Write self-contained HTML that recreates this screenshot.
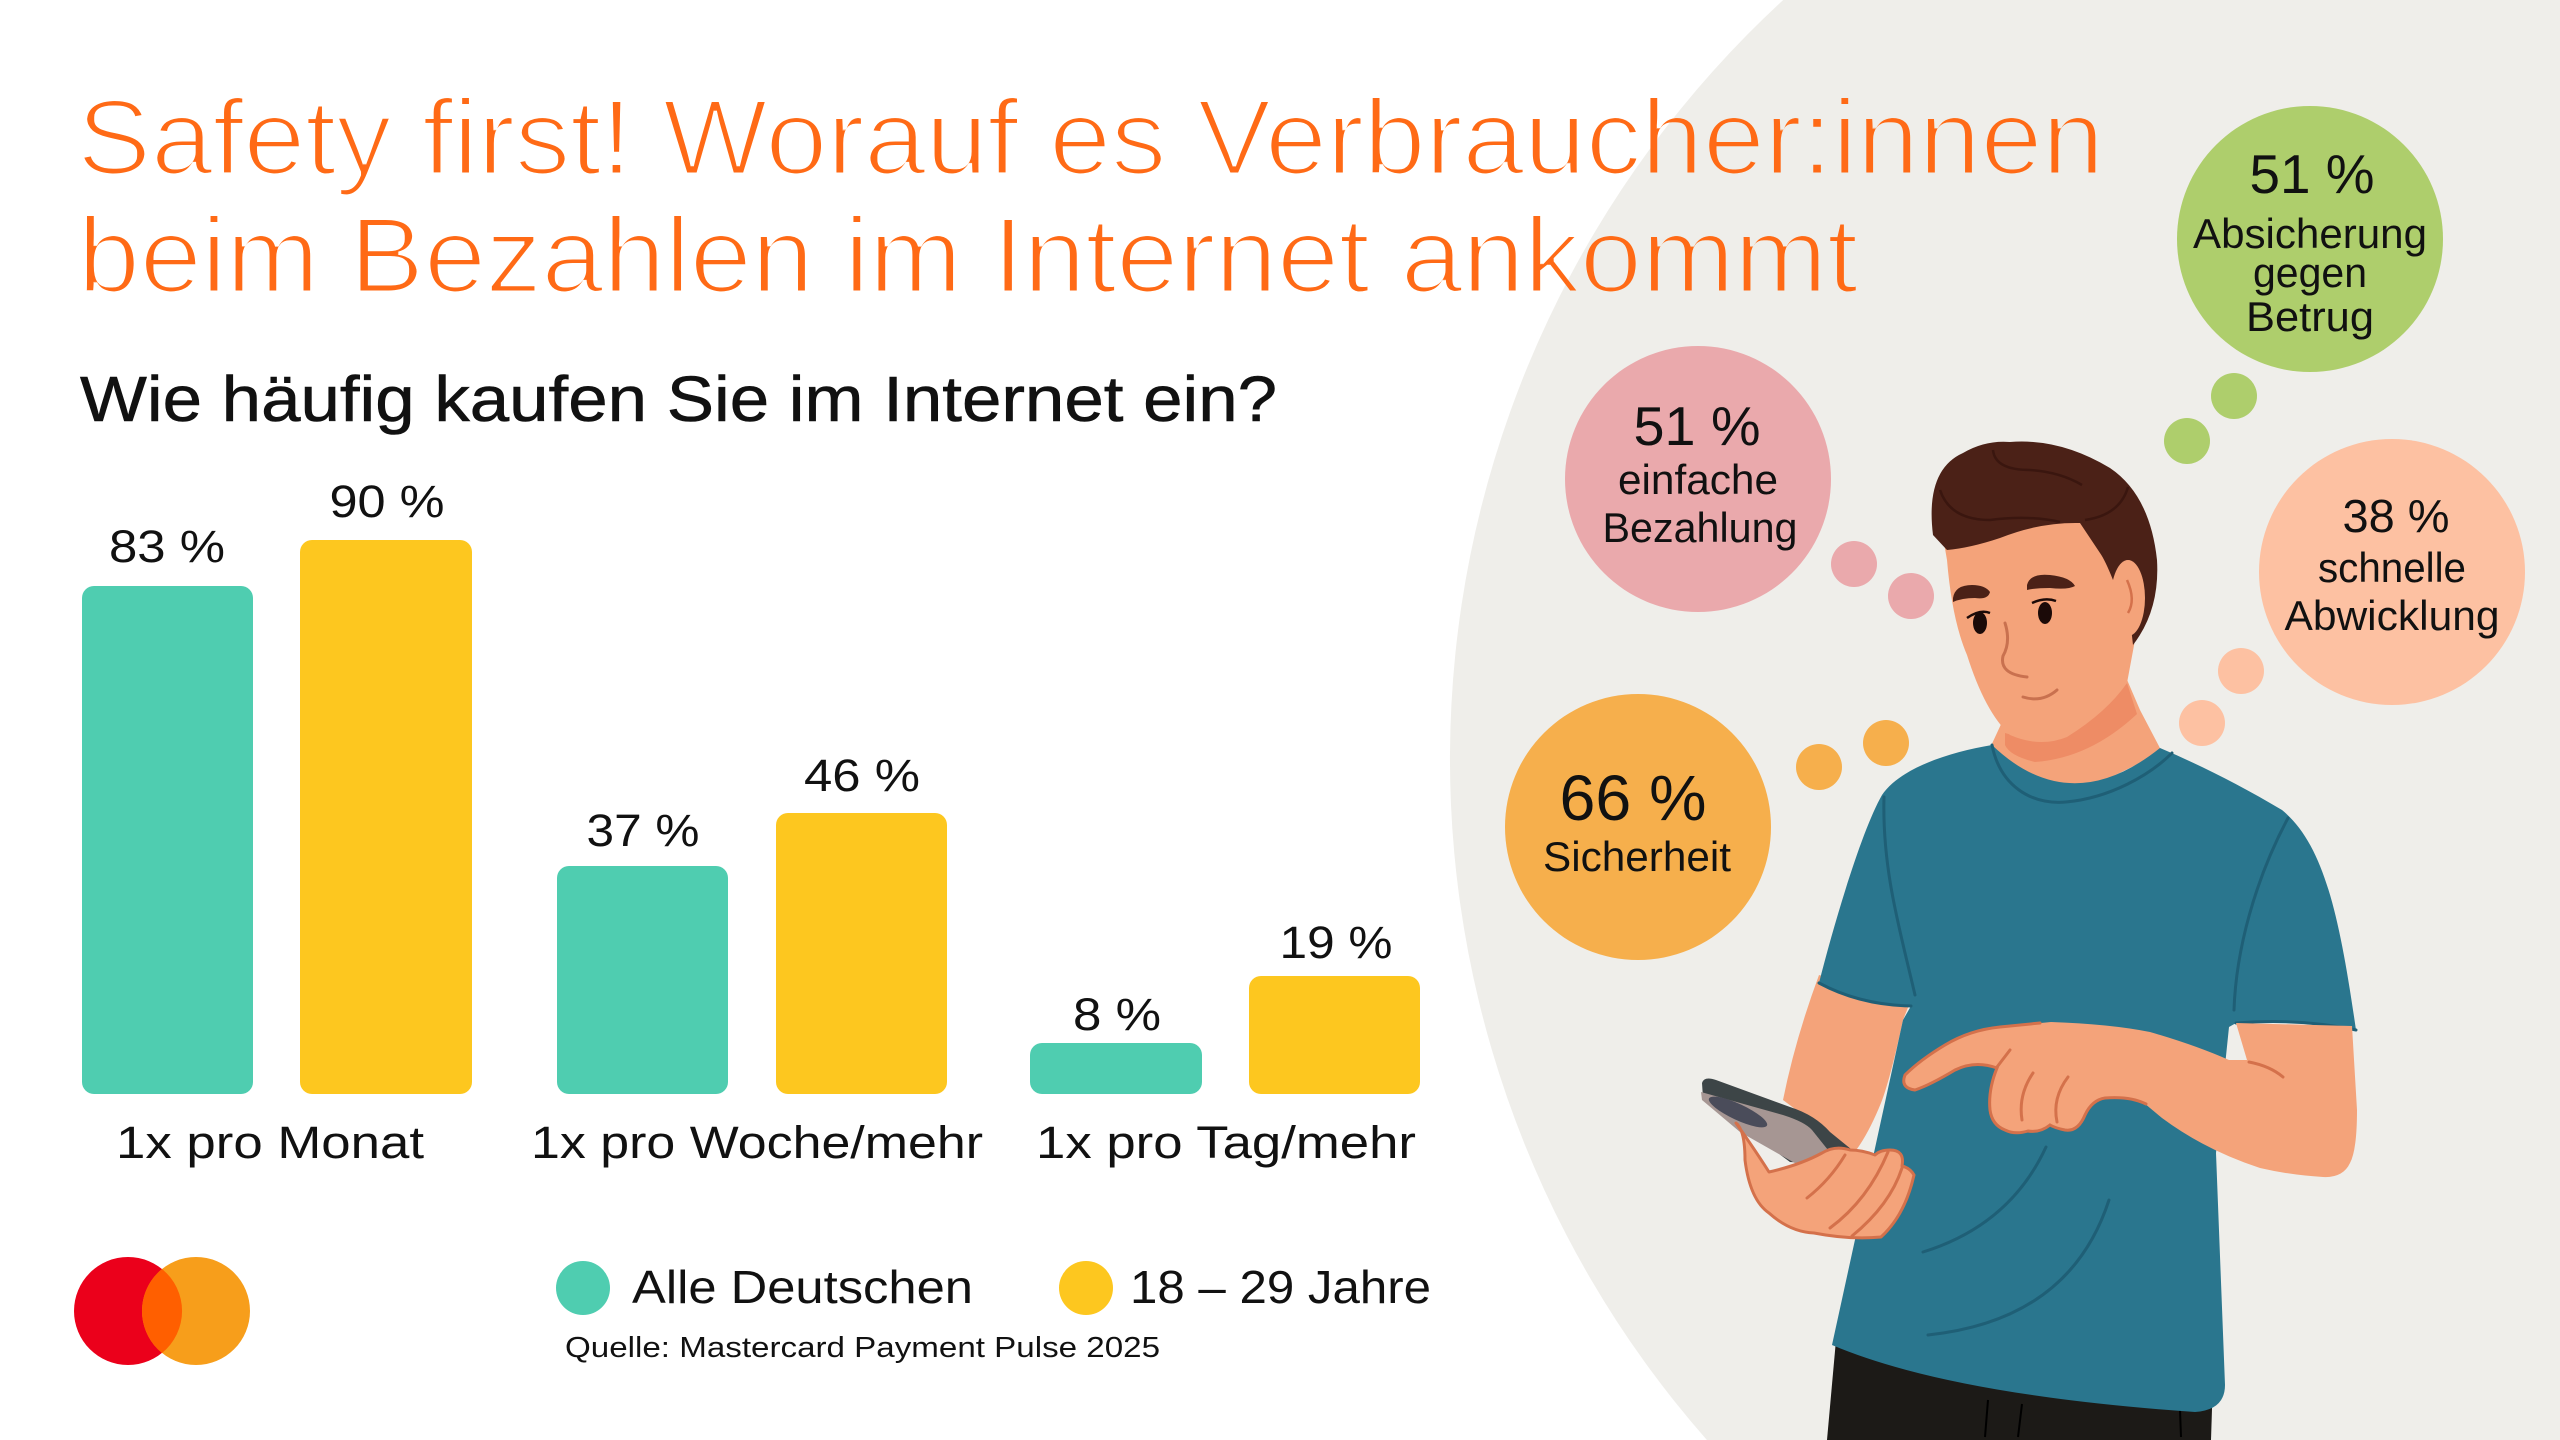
<!DOCTYPE html>
<html><head><meta charset="utf-8">
<style>html,body{margin:0;padding:0;background:#fff;width:2560px;height:1440px;overflow:hidden}svg{display:block;overflow:hidden}</style>
</head><body>
<svg width="2560" height="1440" viewBox="0 0 2560 1440" xmlns="http://www.w3.org/2000/svg" font-family="'Liberation Sans', sans-serif">
<defs>
  <filter id="thin" x="-2%" y="-20%" width="104%" height="140%"><feMorphology operator="erode" radius="1.5"/></filter>
</defs>
<rect width="2560" height="1440" fill="#fff"/>
<path d="M1783.2,0 L2560,0 L2560,1440 L1706.9,1440 A1031,1031 0 0 1 1783.2,0 Z" fill="#EFEEEA"/>

<!-- Title -->
<g fill="#FF6A13" font-size="107" filter="url(#thin)">
  <text x="77" y="174" textLength="2027" lengthAdjust="spacingAndGlyphs">Safety first! Worauf es Verbraucher:innen</text>
  <text x="78" y="292" textLength="1780" lengthAdjust="spacingAndGlyphs">beim Bezahlen im Internet ankommt</text>
</g>

<!-- Subtitle -->
<text x="80" y="421" font-size="64" fill="#111" stroke="#111" stroke-width="0.6" textLength="1197" lengthAdjust="spacingAndGlyphs">Wie häufig kaufen Sie im Internet ein?</text>

<!-- Bars -->
<g>
  <rect x="82" y="586" width="171" height="508" rx="12" fill="#4FCDB0"/>
  <rect x="300" y="540" width="172" height="554" rx="12" fill="#FDC71F"/>
  <rect x="557" y="866" width="171" height="228" rx="12" fill="#4FCDB0"/>
  <rect x="776" y="813" width="171" height="281" rx="12" fill="#FDC71F"/>
  <rect x="1030" y="1043" width="172" height="51" rx="12" fill="#4FCDB0"/>
  <rect x="1249" y="976" width="171" height="118" rx="12" fill="#FDC71F"/>
</g>
<g font-size="45" fill="#111" text-anchor="middle">
  <text x="167" y="562" textLength="116" lengthAdjust="spacingAndGlyphs">83 %</text>
  <text x="387" y="517" textLength="115" lengthAdjust="spacingAndGlyphs">90 %</text>
  <text x="643" y="846" textLength="113" lengthAdjust="spacingAndGlyphs">37 %</text>
  <text x="862" y="791" textLength="116" lengthAdjust="spacingAndGlyphs">46 %</text>
  <text x="1117" y="1030" textLength="88" lengthAdjust="spacingAndGlyphs">8 %</text>
  <text x="1336" y="958" textLength="113" lengthAdjust="spacingAndGlyphs">19 %</text>
  <text x="270" y="1158" textLength="308" lengthAdjust="spacingAndGlyphs">1x pro Monat</text>
  <text x="757" y="1158" textLength="452" lengthAdjust="spacingAndGlyphs">1x pro Woche/mehr</text>
  <text x="1226" y="1158" textLength="380" lengthAdjust="spacingAndGlyphs">1x pro Tag/mehr</text>
</g>

<!-- Legend -->
<circle cx="583" cy="1288" r="27" fill="#4FCDB0"/>
<circle cx="1086" cy="1288" r="27" fill="#FDC71F"/>
<g font-size="46" fill="#111">
  <text x="632" y="1303" textLength="341" lengthAdjust="spacingAndGlyphs">Alle Deutschen</text>
  <text x="1130" y="1303" textLength="301" lengthAdjust="spacingAndGlyphs">18 – 29 Jahre</text>
</g>
<text x="565" y="1357" font-size="29" fill="#111" textLength="595" lengthAdjust="spacingAndGlyphs">Quelle: Mastercard Payment Pulse 2025</text>

<!-- Mastercard logo -->
<circle cx="128" cy="1311" r="54" fill="#EB001B"/>
<circle cx="196" cy="1311" r="54" fill="#F79E1B"/>
<path d="M162,1269 A54,54 0 0 1 162,1353 A54,54 0 0 1 162,1269 Z" fill="#FF5F00"/>

<!-- Bubbles -->
<circle cx="2310" cy="239" r="133" fill="#AECE6C"/>
<circle cx="2234" cy="396" r="23" fill="#AECE6C"/>
<circle cx="2187" cy="441" r="23" fill="#AECE6C"/>
<circle cx="1698" cy="479" r="133" fill="#EAA9AC"/>
<circle cx="1854" cy="564" r="23" fill="#EAA9AC"/>
<circle cx="1911" cy="596" r="23" fill="#EAA9AC"/>
<circle cx="2392" cy="572" r="133" fill="#FDC1A2"/>
<circle cx="2241" cy="671" r="23" fill="#FDC1A2"/>
<circle cx="2202" cy="723" r="23" fill="#FDC1A2"/>
<circle cx="1638" cy="827" r="133" fill="#F6AF4C"/>
<circle cx="1819" cy="767" r="23" fill="#F6AF4C"/>
<circle cx="1886" cy="743" r="23" fill="#F6AF4C"/>

<g fill="#111" text-anchor="middle">
  <text x="2312" y="193" font-size="55" textLength="125" lengthAdjust="spacingAndGlyphs">51 %</text>
  <text x="2310" y="248" font-size="42" textLength="234" lengthAdjust="spacingAndGlyphs">Absicherung</text>
  <text x="2310" y="287" font-size="42" textLength="114" lengthAdjust="spacingAndGlyphs">gegen</text>
  <text x="2310" y="331" font-size="42" textLength="128" lengthAdjust="spacingAndGlyphs">Betrug</text>

  <text x="1697" y="445" font-size="55" textLength="127" lengthAdjust="spacingAndGlyphs">51 %</text>
  <text x="1698" y="494" font-size="42" textLength="160" lengthAdjust="spacingAndGlyphs">einfache</text>
  <text x="1700" y="542" font-size="42" textLength="195" lengthAdjust="spacingAndGlyphs">Bezahlung</text>

  <text x="2396" y="532" font-size="46" textLength="107" lengthAdjust="spacingAndGlyphs">38 %</text>
  <text x="2392" y="582" font-size="42" textLength="148" lengthAdjust="spacingAndGlyphs">schnelle</text>
  <text x="2392" y="630" font-size="42" textLength="215" lengthAdjust="spacingAndGlyphs">Abwicklung</text>

  <text x="1633" y="820" font-size="64" textLength="147" lengthAdjust="spacingAndGlyphs">66 %</text>
  <text x="1637" y="871" font-size="42" textLength="188" lengthAdjust="spacingAndGlyphs">Sicherheit</text>
</g>

<!-- Man illustration -->
<path d="M1836,1340 L2213,1378 L2211,1440 L1827,1440 Z" fill="#1C1A17"/>
<path d="M1988,1400 L1985,1437 M2022,1404 L2018,1437 M2180,1410 L2181,1437" stroke="#000" stroke-width="2" fill="none"/>
<path d="M1819,975 L1911,1000 L1903,1020 Q1890,1080 1881,1103 Q1868,1135 1854,1153 L1783,1100 Q1795,1040 1819,975 Z" fill="#F4A37A"/>
<path d="M2003,720 L2125,675 L2140,710 L2162,752 L2065,800 L1990,748 Z" fill="#F4A37A"/>
<path d="M2005,733 Q2060,752 2127,683 L2137,714 Q2090,758 2035,762 Q2010,756 2005,745 Z" fill="#EE8C65"/>
<path d="M1992,745 C1950,752 1900,768 1882,795 C1862,830 1835,920 1819,983 Q1860,1005 1911,1006 L1903,1020 L1832,1345 Q1950,1395 2195,1412 Q2225,1410 2225,1385 L2216,1153 L2229,1027 L2236,1023 Q2300,1018 2356,1030 C2340,920 2325,845 2282,810 C2240,785 2200,765 2160,748 Q2070,820 1992,745 Z" fill="#2A768E"/>
<g stroke="#1F5F76" stroke-width="3" fill="none" stroke-linecap="round">
  <path d="M1992,745 C2000,785 2030,805 2066,802 C2110,798 2150,775 2172,753"/>
  <path d="M1884,797 C1882,870 1900,930 1915,995"/>
  <path d="M2288,818 C2255,880 2236,950 2234,1010"/>
  <path d="M1819,983 Q1860,1005 1911,1006"/>
  <path d="M2236,1023 Q2300,1018 2356,1030"/>
  <path d="M2046,1147 Q2010,1225 1923,1252"/>
  <path d="M2109,1200 Q2070,1320 1928,1335"/>
</g>
<path d="M1940,520 L1947,560 Q1952,620 1967,655 Q1985,712 2010,735 Q2040,748 2067,737 Q2107,712 2127,683 L2135,640 L2135,520 Z" fill="#F4A37A"/>
<path d="M1933,535 Q1925,470 1963,453 Q1985,440 2010,442 Q2060,438 2110,468 Q2150,495 2157,560 Q2160,610 2133,645 L2128,600 Q2118,585 2113,580 Q2105,560 2100,553 L2080,523 Q2040,522 2000,538 Q1970,548 1947,550 Z" fill="#4B2117"/>
<g stroke="#3A160F" stroke-width="2.5" fill="none">
  <path d="M1993,450 Q1995,470 2030,470 Q2060,472 2082,485"/>
  <path d="M1940,490 Q1950,520 1990,520 Q2030,515 2060,522"/>
  <path d="M2128,487 Q2120,515 2085,520"/>
</g>
<ellipse cx="2128" cy="598" rx="17" ry="38" fill="#F4A37A"/>
<path d="M2127,580 Q2136,600 2128,613" stroke="#D4714B" stroke-width="2.5" fill="none"/>
<path d="M1953,598 Q1955,585 1972,585 Q1985,585 1990,592 Q1988,600 1975,598 Q1962,598 1953,602 Z" fill="#4B2117"/>
<path d="M2027,585 Q2030,573 2050,575 Q2070,577 2075,586 Q2068,590 2050,588 Q2035,588 2027,590 Z" fill="#4B2117"/>
<ellipse cx="1980" cy="623" rx="7" ry="11" fill="#1B0A08"/>
<ellipse cx="2045" cy="613" rx="7" ry="11" fill="#1B0A08"/>
<path d="M1967,618 Q1980,609 1990,613 M2032,603 Q2045,597 2056,601" stroke="#1B0A08" stroke-width="2.5" fill="none"/>
<path d="M2005,623 Q2011,642 2003,656 Q1999,674 2027,677" stroke="#C9714F" stroke-width="3" fill="none" stroke-linecap="round"/>
<path d="M2023,697 Q2042,703 2057,690" stroke="#C9714F" stroke-width="3" fill="none" stroke-linecap="round"/>

<path d="M2236,1023 L2352,1026 L2357,1110 Q2357,1150 2350,1163 Q2343,1178 2323,1177 Q2290,1175 2260,1168 Q2205,1150 2162,1118 Q2150,1108 2144,1103 Q2130,1096 2105,1098 Q2092,1100 2085,1115 Q2078,1132 2065,1130 Q2055,1128 2050,1125 Q2040,1133 2028,1131 Q2015,1135 2005,1130 Q1992,1125 1990,1110 Q1988,1090 1997,1068 Q1975,1060 1955,1070 Q1930,1085 1915,1090 Q1900,1088 1905,1075 Q1920,1060 1945,1045 Q1970,1030 2000,1027 L2051,1022 Q2110,1024 2150,1032 Q2195,1045 2229,1060 L2247,1060 Z" fill="#F4A37A"/>
<g stroke="#D4714B" stroke-width="3" fill="none" stroke-linecap="round">
  <path d="M2146,1104 Q2130,1096 2105,1098 Q2092,1100 2085,1115 Q2078,1132 2065,1130 Q2055,1128 2050,1125 Q2040,1133 2028,1131 Q2015,1135 2005,1130 Q1992,1125 1990,1110 Q1988,1090 1997,1068 Q1975,1060 1955,1070 Q1930,1085 1915,1090 Q1900,1088 1905,1075 Q1920,1060 1945,1045 Q1970,1030 2000,1027 L2040,1023"/>
  <path d="M2010,1050 L1997,1067"/>
  <path d="M2033,1073 Q2018,1095 2022,1120"/>
  <path d="M2068,1077 Q2052,1098 2057,1122"/>
  <path d="M2249,1062 Q2270,1066 2283,1077"/>
</g>

<path d="M1702,1083 Q1704,1076 1716,1080 L1790,1107 Q1815,1115 1830,1132 L1862,1158 L1850,1166 L1790,1162 L1703,1098 Z" fill="#3D4547"/>
<path d="M1701,1092 L1783,1115 Q1805,1122 1812,1130 L1836,1160 L1800,1166 L1740,1132 L1702,1100 Z" fill="#A69693"/>
<ellipse cx="1738" cy="1112" rx="32" ry="8" transform="rotate(25 1738 1112)" fill="#4A4C5A"/>
<path d="M1736,1123 Q1745,1130 1745,1160 Q1750,1200 1769,1213 Q1790,1232 1814,1233 Q1850,1240 1881,1237 Q1905,1215 1914,1175 Q1910,1168 1902,1166 Q1905,1150 1890,1150 Q1880,1150 1875,1155 Q1862,1150 1850,1150 Q1835,1145 1822,1153 Q1800,1165 1769,1172 Q1755,1150 1736,1123 Z" fill="#F4A37A" stroke="#D4714B" stroke-width="3" stroke-linejoin="round"/>
<g stroke="#D4714B" stroke-width="3" fill="none" stroke-linecap="round">
  <path d="M1807,1198 Q1830,1180 1845,1155"/>
  <path d="M1830,1228 Q1868,1200 1888,1152"/>
  <path d="M1852,1236 Q1890,1205 1902,1168"/>
</g>
</svg>
</body></html>
